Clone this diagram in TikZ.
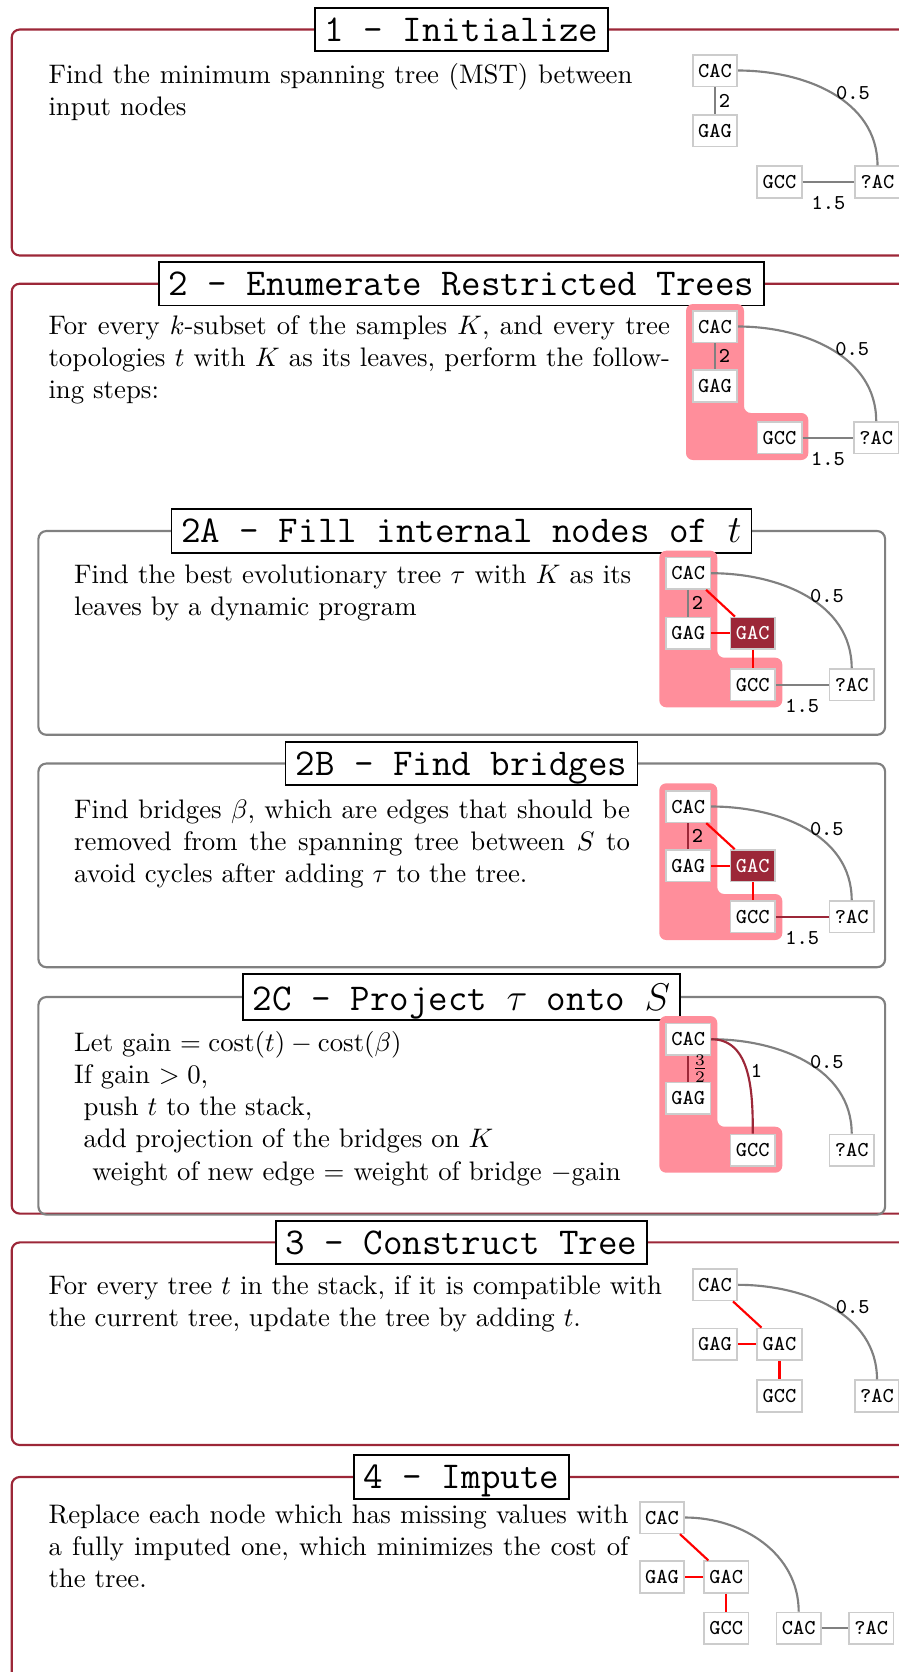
\documentclass[tikz,border=0pt]{standalone}
\usepackage{fontspec}
\usepackage{amsmath}
\definecolor{framered}{RGB}{156,39,56}
\definecolor{pinkc}{RGB}{255,142,155}
\tikzset{
 secframe/.style={draw=framered, thick, rounded corners=3pt},
 subframe/.style={draw=gray, thick, rounded corners=3pt},
 titlebox/.style={draw=black, semithick, fill=white, font=\ttfamily\fontsize{14.15}{16}\selectfont, inner sep=3.7pt, text depth=0pt},
 body/.style={inner sep=0pt, anchor=base west, align=justify, font=\normalsize},
 seq/.style={draw=gray!40, fill=white, font=\ttfamily\fontsize{7.9}{9}\selectfont, inner sep=1.5pt, minimum width=16.6pt, minimum height=11.8pt, semithick},
 seqdark/.style={seq, fill=framered, text=white},
 lbl/.style={font=\ttfamily\fontsize{7.9}{9}\selectfont, inner sep=1pt},
 gedge/.style={draw=gray, thick},
 redge/.style={draw=red, thick},
 bedge/.style={draw=framered, thick},
 pinkL/.style={fill=pinkc, rounded corners=2.6pt},
}
\begin{document}
\begin{tikzpicture}[x=0.3733pt,y=0.3733pt]
\useasboundingbox (0,0) rectangle (899,-1672);
\clip (0,0) rectangle (899,-1672);

% frames
\draw[secframe] (11.7,-29.5) rectangle (911.3,-255.5);
\draw[secframe] (11.7,-283.7) rectangle (911.3,-1213.6);
\draw[secframe] (11.7,-1242.4) rectangle (911.3,-1445);
\draw[secframe] (11.7,-1477) rectangle (911.3,-1720);
\draw[subframe] (38.4,-531) rectangle (885.1,-734.8);
\draw[subframe] (38.4,-763.5) rectangle (885.1,-967.2);
\draw[subframe] (38.4,-997) rectangle (885.1,-1214.6);

% titles
\node[titlebox] (t1) at (461.5,-29.5) {1 - Initialize};
\node[titlebox] (t2) at (461.5,-283.7) {2 - Enumerate Restricted Trees};
\node[titlebox] (t2a) at (461.5,-531) {2A - Fill internal nodes of $t$};
\node[titlebox] (t2b) at (461.5,-763.5) {2B - Find bridges};
\node[titlebox] (t2c) at (461.5,-997) {2C - Project $\tau$ onto $S$};
\node[titlebox] (t3) at (461.5,-1242.4) {3 - Construct Tree};
\node[titlebox] (t4) at (461.5,-1477) {4 - Impute};

% texts
\node[body, text width=218pt] (x1) at (48,-83.3) {Find the minimum spanning tree (MST) between\linebreak input nodes};
\node[body, text width=232pt] (x2) at (48,-334) {For every $k$-subset of the samples $K$, and every tree\linebreak topologies $t$ with $K$ as its leaves, perform the follow-\linebreak ing steps:};
\node[body, text width=208pt] (x2a) at (73.6,-583) {Find the best evolutionary tree $\tau$ with $K$ as its\linebreak leaves by a dynamic program};
\node[body, text width=207.5pt] (x2b) at (73.6,-818) {Find bridges $\beta$, which are edges that should be\linebreak removed from the spanning tree between $S$ to\linebreak avoid cycles after adding $\tau$ to the tree.};
\node[body, text width=230pt, align=left] (x2c) at (73.6,-1051.5) {Let gain $= \mathrm{cost}(t) - \mathrm{cost}(\beta)$\\
If gain $> 0$,\\
\hspace*{3.5pt}push $t$ to the stack,\\
\hspace*{3.5pt}add projection of the bridges on $K$\\
\hspace*{6.8pt}weight of new edge $=$ weight of bridge $-$gain};
\node[body, text width=229pt] (x3) at (48,-1294) {For every tree $t$ in the stack, if it is compatible with\linebreak the current tree, update the tree by adding $t$.};
\node[body, text width=216.5pt] (x4) at (48,-1523) {Replace each node which has missing values with\linebreak a fully imputed one, which minimizes the cost of\linebreak the tree.};

% ---- graph 1
\begin{scope}[shift={(715,-70.5)}]
\node[seq] (c1) at (0,0) {CAC};
\node[seq] (g1) at (0,-60) {GAG};
\node[seq] (gc1) at (64.5,-111.5) {GCC};
\node[seq] (q1) at (162.5,-111.5) {?AC};
\end{scope}
\draw[gedge] (c1) -- node[lbl,right]{2} (g1);
\draw[gedge] (c1.east) to[out=0,in=90] node[lbl,right]{0.5} (q1.north);
\draw[gedge] (gc1) -- node[lbl,below=4pt]{1.5} (q1);

% ---- graph 2
\begin{scope}[shift={(715,-326.5)}]
\fill[pinkL] (-29,22.5) -- (29,22.5) -- (29,-86.5) -- (93.3,-86.5) -- (93.3,-133.5) -- (-29,-133.5) -- cycle;
\node[seq] (c2) at (0,0) {CAC};
\node[seq] (g2) at (0,-59.5) {GAG};
\node[seq] (gc2) at (64.6,-111.2) {GCC};
\node[seq] (q2) at (161.2,-111.2) {?AC};
\end{scope}
\draw[gedge] (c2) -- node[lbl,right]{2} (g2);
\draw[gedge] (c2.east) to[out=0,in=90] node[lbl,right]{0.5} (q2.north);
\draw[gedge] (gc2) -- node[lbl,below=4pt]{1.5} (q2);

% ---- graph 2A
\begin{scope}[shift={(688.2,-573.2)}]
\fill[pinkL] (-28.9,22.5) -- (29.1,22.5) -- (29.1,-84.5) -- (94.1,-84.5) -- (94.1,-134.1) -- (-28.9,-134.1) -- cycle;
\node[seq] (c3) at (0,0) {CAC};
\node[seq] (g3) at (0,-60) {GAG};
\node[seqdark] (a3) at (64.6,-60) {GAC};
\node[seq] (gc3) at (64.6,-111.6) {GCC};
\node[seq] (q3) at (163.5,-111.6) {?AC};
\end{scope}
\draw[gedge] (c3) -- node[lbl,right]{2} (g3);
\draw[gedge] (c3.east) to[out=0,in=90] node[lbl,right]{0.5} (q3.north);
\draw[gedge] (gc3) -- node[lbl,below=4pt]{1.5} (q3);
\draw[redge] (c3) -- (a3);
\draw[redge] (g3) -- (a3);
\draw[redge] (a3) -- (gc3);

% ---- graph 2B
\begin{scope}[shift={(688.2,-806.5)}]
\fill[pinkL] (-28.9,23.2) -- (29.1,23.2) -- (29.1,-87.5) -- (94.1,-87.5) -- (94.1,-133.5) -- (-28.9,-133.5) -- cycle;
\node[seq] (c4) at (0,0) {CAC};
\node[seq] (g4) at (0,-59.3) {GAG};
\node[seqdark] (a4) at (64.6,-59.3) {GAC};
\node[seq] (gc4) at (64.6,-110.3) {GCC};
\node[seq] (q4) at (163.5,-110.3) {?AC};
\end{scope}
\draw[bedge] (c4) -- node[lbl,right]{2} (g4);
\draw[gedge] (c4.east) to[out=0,in=90] node[lbl,right]{0.5} (q4.north);
\draw[bedge] (gc4) -- node[lbl,below=4pt]{1.5} (q4);
\draw[redge] (c4) -- (a4);
\draw[redge] (g4) -- (a4);
\draw[redge] (a4) -- (gc4);

% ---- graph 2C
\begin{scope}[shift={(688.2,-1039.2)}]
\fill[pinkL] (-28.9,23.2) -- (29.1,23.2) -- (29.1,-87.5) -- (94.1,-87.5) -- (94.1,-133.5) -- (-28.9,-133.5) -- cycle;
\node[seq] (c5) at (0,0) {CAC};
\node[seq] (g5) at (0,-59.1) {GAG};
\node[seq] (gc5) at (64.6,-111) {GCC};
\node[seq] (q5) at (163.5,-111) {?AC};
\end{scope}
\draw[bedge] (c5) -- node[lbl,right]{$\frac{3}{2}$} (g5);
\draw[gedge] (c5.east) to[out=0,in=90] node[lbl,right]{0.5} (q5.north);
\draw[bedge] (c5.east) to[out=0,in=90] node[lbl,right]{1} (gc5.north);

% ---- graph 3
\begin{scope}[shift={(715,-1284.8)}]
\node[seq] (c6) at (0,0) {CAC};
\node[seq] (g6) at (0,-59.4) {GAG};
\node[seq] (a6) at (64.5,-59.4) {GAC};
\node[seq] (gc6) at (64.5,-111.2) {GCC};
\node[seq] (q6) at (162,-111.2) {?AC};
\end{scope}
\draw[gedge] (c6.east) to[out=0,in=90] node[lbl,right]{0.5} (q6.north);
\draw[redge] (c6) -- (a6);
\draw[redge] (g6) -- (a6);
\draw[redge] (a6) -- (gc6);

% ---- graph 4
\begin{scope}[shift={(662,-1517.5)}]
\node[seq] (c7) at (0,0) {CAC};
\node[seq] (g7) at (0,-59.5) {GAG};
\node[seq] (a7) at (64.3,-59.5) {GAC};
\node[seq] (gc7) at (64.3,-110.8) {GCC};
\node[seq] (cc7) at (136.7,-110.8) {CAC};
\node[seq] (q7) at (209.3,-110.8) {?AC};
\end{scope}
\draw[gedge] (c7.east) to[out=0,in=90] (cc7.north);
\draw[gedge] (cc7) -- (q7);
\draw[redge] (c7) -- (a7);
\draw[redge] (g7) -- (a7);
\draw[redge] (a7) -- (gc7);
\end{tikzpicture}
\end{document}
